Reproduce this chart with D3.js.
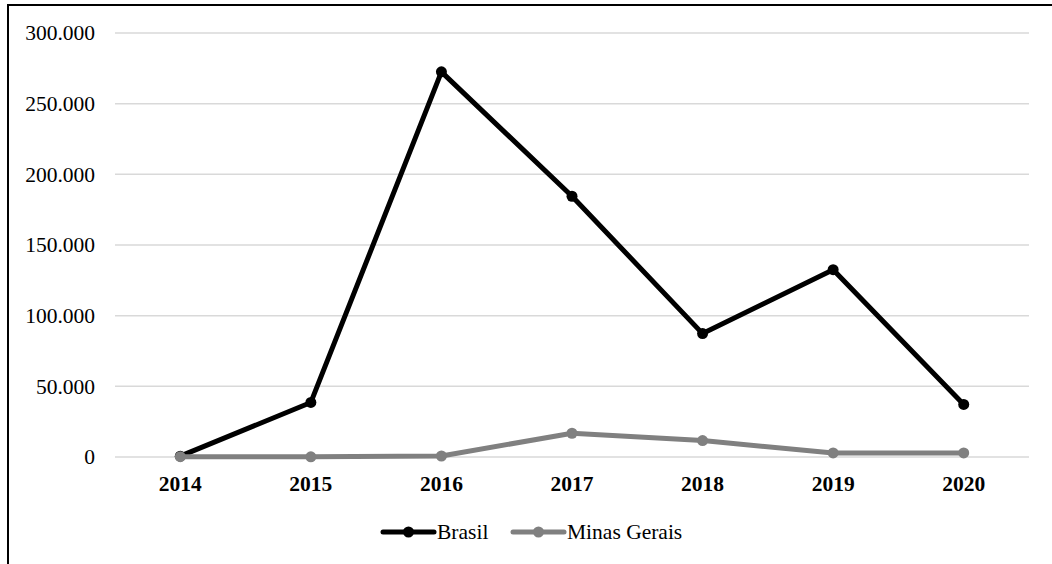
<!DOCTYPE html>
<html>
<head>
<meta charset="utf-8">
<script src="https://cdn.jsdelivr.net/npm/d3@7"></script>
<style>
  html, body { margin: 0; padding: 0; background: #fff; }
  svg { display: block; }
  svg text { font-family: "Liberation Serif", "Times New Roman", "DejaVu Serif", serif !important; fill: #000; }
</style>
</head>
<body>
<script>
// Years on the horizontal axis
const years = ["2014", "2015", "2016", "2017", "2018", "2019", "2020"];
// Series values
const brasil = [600, 38600, 272500, 184500, 87300, 132500, 37200];
const minasGerais = [200, 100, 700, 16800, 11600, 2900, 2900];
// Value axis ticks
const yTicks = [0, 50000, 100000, 150000, 200000, 250000, 300000];
const seriesNames = ["Brasil", "Minas Gerais"];

const W = 1052, H = 564;
const plot = { left: 115, right: 1029, top: 33, bottom: 457 };

const svg = d3.select("body").append("svg")
  .attr("width", W).attr("height", H);

// frame around the chart area
svg.append("rect")
  .attr("x", 8).attr("y", 5)
  .attr("width", W + 10).attr("height", H + 10)
  .attr("fill", "none").attr("stroke", "#000").attr("stroke-width", 2);

const x = d3.scaleBand().domain(years).range([plot.left, plot.right]);
const y = d3.scaleLinear().domain([0, 300000]).range([plot.bottom, plot.top]);

const fmt = v => d3.format(",")(v).replace(/,/g, ".");

// horizontal gridlines
svg.append("g")
  .selectAll("line").data(yTicks).join("line")
  .attr("x1", plot.left).attr("x2", plot.right)
  .attr("y1", d => y(d)).attr("y2", d => y(d))
  .attr("stroke", "#d9d9d9").attr("stroke-width", 1.5);

// value axis labels
const yAxis = svg.append("g")
  .attr("transform", `translate(${plot.left},0)`)
  .call(d3.axisLeft(y).tickValues(yTicks).tickFormat(fmt).tickSize(0).tickPadding(20));
yAxis.attr("font-family", null).attr("font-size", null);
yAxis.select(".domain").remove();
yAxis.selectAll("text")
  .style("font-size", "21.5px").attr("fill", "#000");

// category axis labels
const xAxis = svg.append("g")
  .attr("transform", `translate(0,${plot.bottom})`)
  .call(d3.axisBottom(x).tickSize(0).tickPadding(19));
xAxis.attr("font-family", null).attr("font-size", null);
xAxis.select(".domain").remove();
xAxis.selectAll("text")
  .style("font-size", "21.5px").style("font-weight", "bold").attr("fill", "#000");

const cx = d => x(d) + x.bandwidth() / 2;
const series = [
  { name: seriesNames[0], values: brasil, color: "#000000" },
  { name: seriesNames[1], values: minasGerais, color: "#808080" }
];

const line = d3.line()
  .x((d, i) => cx(years[i]))
  .y(d => y(d));

// series drawn in order, so Minas Gerais sits above Brasil
series.forEach(s => {
  svg.append("path")
    .datum(s.values)
    .attr("d", line)
    .attr("fill", "none")
    .attr("stroke", s.color)
    .attr("stroke-width", 5)
    .attr("stroke-linejoin", "round");
  svg.append("g")
    .selectAll("circle").data(s.values).join("circle")
    .attr("cx", (d, i) => cx(years[i]))
    .attr("cy", d => y(d))
    .attr("r", 5.5)
    .attr("fill", s.color);
});

// legend
const legend = svg.append("g");
const legendItems = [
  { s: series[0], x0: 383 },
  { s: series[1], x0: 513 }
];
legendItems.forEach(({ s, x0 }) => {
  legend.append("line")
    .attr("x1", x0).attr("x2", x0 + 51)
    .attr("y1", 532).attr("y2", 532)
    .attr("stroke", s.color).attr("stroke-width", 5).attr("stroke-linecap", "round");
  legend.append("circle")
    .attr("cx", x0 + 25.5).attr("cy", 532).attr("r", 5.5).attr("fill", s.color);
  legend.append("text")
    .attr("x", x0 + 54).attr("y", 539)
    .style("font-size", "21.5px")
    .text(s.name);
});
</script>
</body>
</html>
